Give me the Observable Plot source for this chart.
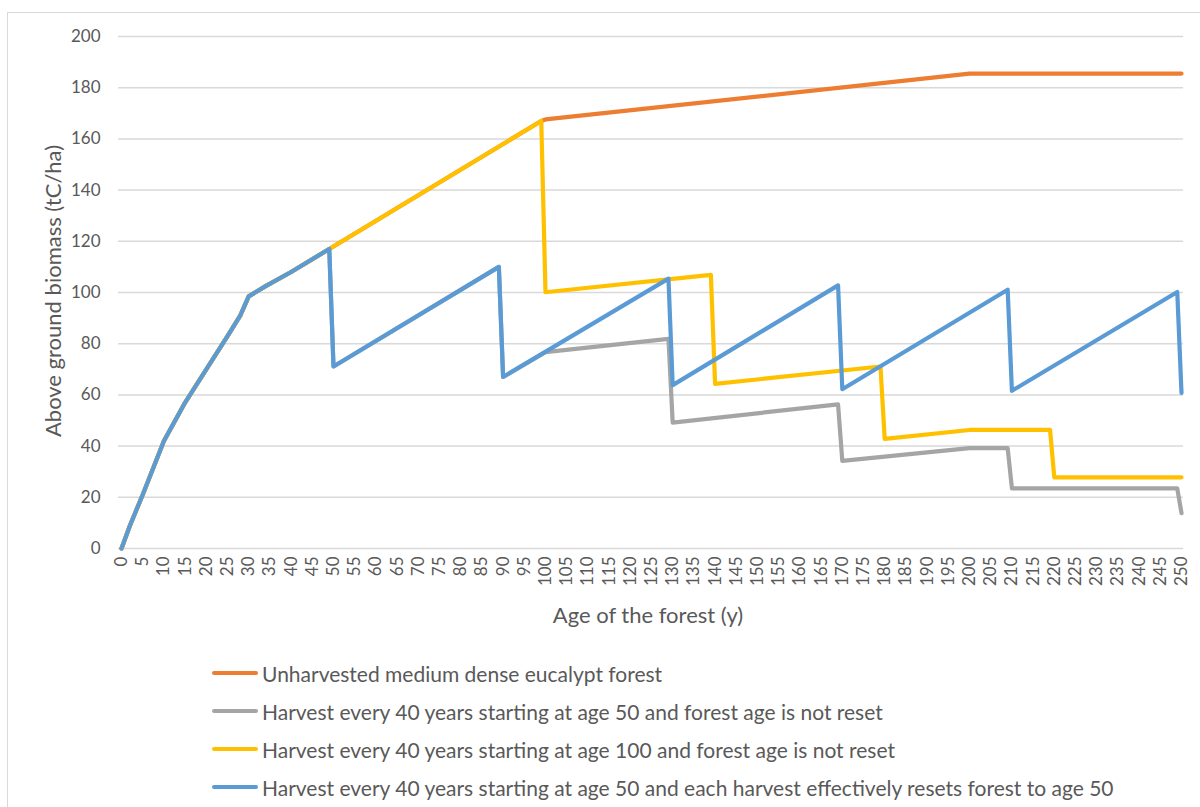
<!DOCTYPE html>
<html>
<head>
<meta charset="utf-8">
<script src="https://cdn.jsdelivr.net/npm/d3@7"></script>
<script src="https://cdn.jsdelivr.net/npm/@observablehq/plot@0.6"></script>
<style>
  html, body { margin: 0; padding: 0; background: #fff; }
  body { font-family: Lato, "Open Sans", sans-serif; color: #595959; }
  #wrap { position: relative; width: 1200px; height: 807px; overflow: hidden; }
  #frame { position: absolute; left: 7px; top: 12px; width: 1240px; height: 840px; border: 1px solid #d9d9d9; box-sizing: border-box; }
  #chart { position: absolute; left: 0; top: 0; }
  .ytitle { position: absolute; left: 52px; top: 291px; transform: translate(-50%, -50%) rotate(-90deg); white-space: nowrap; font-size: 22px; }
  .xtitle { position: absolute; left: 648px; top: 614px; transform: translate(-50%, -50%); white-space: nowrap; font-size: 22px; }
  #legend { position: absolute; left: 212px; top: 654px; font-size: 21px; }
  .row { display: flex; align-items: center; height: 38px; }
  .swatch { width: 46px; height: 4px; border-radius: 2px; margin-right: 4px; }
</style>
</head>
<body>
<div id="wrap">
  <div id="frame"></div>
  <div id="chart"></div>
  <div class="ytitle">Above ground biomass (tC/ha)</div>
  <div class="xtitle">Age of the forest (y)</div>
  <div id="legend"></div>
</div>
<script>
// Shared early growth (all scenarios identical until first harvest)
const growthAge = [0, 2, 5, 10, 15, 20, 25, 28, 30, 34, 40, 49];
const growthVal = [0, 9, 21, 42, 57, 70, 83, 91, 98.5, 102.5, 108, 117];

// Unharvested (continues growth)
const unharvestedAge = [99, 100, 200, 250];
const unharvestedVal = [167, 167.6, 185.5, 185.5];

// Harvest every 40 years starting at age 100, age not reset
const start100Age = [99, 100, 139, 140, 179, 180, 200, 219, 220, 250];
const start100Val = [167, 100.1, 106.9, 64.3, 71.1, 42.8, 46.3, 46.3, 27.8, 27.8];

// Harvest every 40 years starting at age 50, age not reset
const start50Age = [50, 89, 90, 100, 129, 130, 169, 170, 200, 209, 210, 249, 250];
const start50Val = [71.1, 110, 67, 76.7, 81.9, 49.2, 56.3, 34.2, 39.2, 39.2, 23.5, 23.5, 13.8];

// Harvest every 40 years starting at age 50, reset to age 50
const resetAge = [50, 89, 90, 129, 130, 169, 170, 209, 210, 249, 250];
const resetVal = [71.1, 110, 67, 105.4, 63.8, 102.8, 62.2, 101.1, 61.6, 100.2, 60.8];

const seriesNames = [
  "Unharvested medium dense eucalypt forest",
  "Harvest every 40 years starting at age 50 and forest age is not reset",
  "Harvest every 40 years starting at age 100 and forest age is not reset",
  "Harvest every 40 years starting at age 50 and each harvest effectively resets forest to age 50"
];
const seriesColors = ["#ED7D31", "#A5A5A5", "#FFC000", "#5B9BD5"];

const xTicks = [0,5,10,15,20,25,30,35,40,45,50,55,60,65,70,75,80,85,90,95,100,105,110,115,120,125,130,135,140,145,150,155,160,165,170,175,180,185,190,195,200,205,210,215,220,225,230,235,240,245,250];
const yTicks = [0, 20, 40, 60, 80, 100, 120, 140, 160, 180, 200];

function build(name, ages, vals) {
  return ages.map((a, i) => ({series: name, age: a, value: vals[i]}));
}
const seriesData = [
  build(seriesNames[0], growthAge.concat(unharvestedAge), growthVal.concat(unharvestedVal)),
  build(seriesNames[1], growthAge.concat(start50Age), growthVal.concat(start50Val)),
  build(seriesNames[2], growthAge.concat(start100Age), growthVal.concat(start100Val)),
  build(seriesNames[3], growthAge.concat(resetAge), growthVal.concat(resetVal))
];

const chart = Plot.plot({
  width: 1200,
  height: 640,
  marginLeft: 118,
  marginRight: 17,
  marginTop: 36,
  marginBottom: 92,
  insetLeft: 3,
  insetRight: 2,
  style: { fontFamily: "Lato, 'Open Sans', sans-serif", fontSize: "17px", color: "#595959", background: "transparent" },
  x: { domain: [0, 250], ticks: xTicks },
  y: { domain: [0, 200], ticks: yTicks },
  marks: [
    Plot.ruleY(yTicks, { stroke: "#D9D9D9", strokeWidth: 1.5 }),
    Plot.axisY({ ticks: yTicks, tickSize: 0, tickPadding: 18, label: null, fill: "#595959" }),
    Plot.axisX({ ticks: xTicks, tickSize: 0, tickPadding: 8, tickRotate: -90, label: null, fill: "#595959" }),
    ...seriesData.map((d, i) => Plot.line(d, {
      x: "age", y: "value",
      stroke: seriesColors[i], strokeWidth: 4.2,
      strokeLinejoin: "round", strokeLinecap: "round"
    }))
  ]
});
document.getElementById("chart").appendChild(chart);

const legend = document.getElementById("legend");
seriesNames.forEach((n, i) => {
  const row = document.createElement("div");
  row.className = "row";
  const sw = document.createElement("div");
  sw.className = "swatch";
  sw.style.background = seriesColors[i];
  const t = document.createElement("span");
  t.textContent = n;
  row.appendChild(sw);
  row.appendChild(t);
  legend.appendChild(row);
});
</script>
</body>
</html>
